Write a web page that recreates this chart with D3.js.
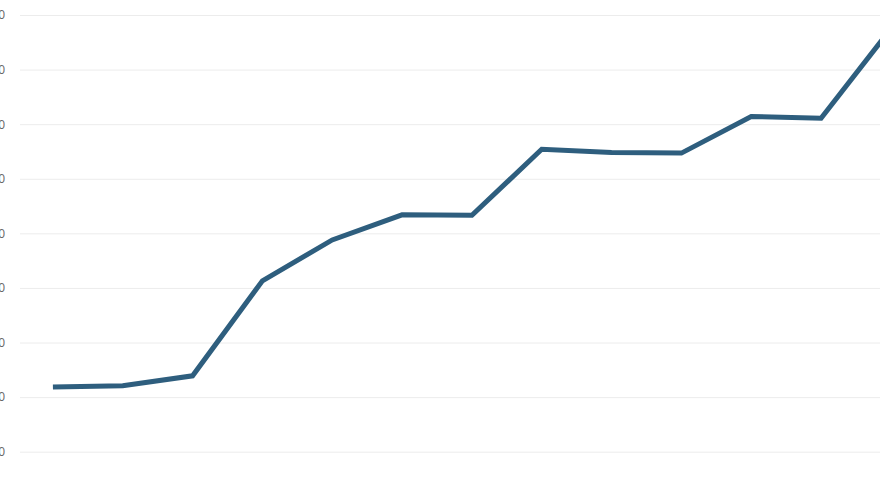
<!DOCTYPE html>
<html>
<head>
<meta charset="utf-8">
<script src="https://cdn.jsdelivr.net/npm/d3@7"></script>
<style>
  html, body { margin: 0; padding: 0; background: #fff; overflow: hidden; }
  svg { display: block; }
</style>
</head>
<body>
<svg id="chart" width="880" height="498"></svg>
<script>
const categories = ["P1","P2","P3","P4","P5","P6","P7","P8","P9","P10","P11","P12","P13"];
const values = [11.85, 12.1, 13.9, 31.3, 38.8, 43.4, 43.3, 55.4, 54.8, 54.7, 61.4, 61.1, 77.5];
const yTicks = [0, 10, 20, 30, 40, 50, 60, 70, 80];

const svg = d3.select("#chart");
const x = d3.scalePoint().domain(categories).range([18, 925.8]).padding(0.5);
const y = d3.scaleLinear().domain([0, 80]).range([451.7, 15]);

const yAxis = d3.axisLeft(y).tickValues(yTicks).tickSize(-900).tickPadding(15);
const gy = svg.append("g").attr("transform", "translate(20,0)").call(yAxis);
gy.select(".domain").remove();
gy.selectAll(".tick line").attr("stroke", "#ececec").attr("stroke-width", 1);
gy.selectAll(".tick text").attr("fill", "#666").attr("font-size", 12)
  .attr("font-family", "'Open Sans', sans-serif");

const line = d3.line().x((d, i) => x(categories[i])).y(d => y(d));
svg.append("path").datum(values)
  .attr("d", line)
  .attr("fill", "none")
  .attr("stroke", "#2e5e7e")
  .attr("stroke-width", 5)
  .attr("stroke-linejoin", "miter");
</script>
</body>
</html>
